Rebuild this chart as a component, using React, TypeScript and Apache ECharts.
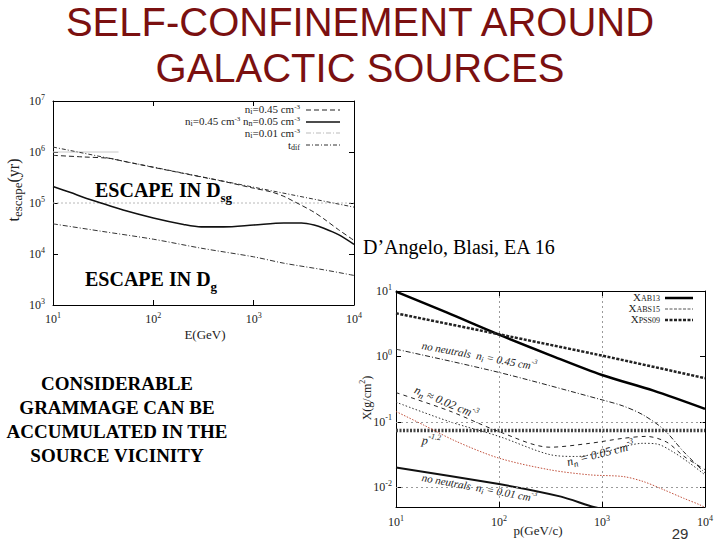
import React, { useEffect, useRef } from 'react';
import * as echarts from 'echarts';

const SERIF = "'Liberation Serif', 'DejaVu Serif', serif";
const SANS = "'Liberation Sans', Arial, sans-serif";

// ---------- Left panel: escape time vs energy ----------
const tdifE = [10, 100, 1000, 10000];
const tdifT = [1.25e6, 5.05e5, 2.04e5, 8.3e4];

const ni045E = [10, 20, 37, 50, 100, 200, 500, 1000, 1500, 2000, 2500, 3000, 4000, 5000, 7000, 10000];
const ni045T = [8.6e5, 8.0e5, 7.5e5, 6.6e5, 5.0e5, 3.8e5, 2.65e5, 1.95e5, 1.65e5, 1.35e5, 1.08e5, 9.0e4, 6.6e4, 4.9e4, 3.0e4, 1.85e4];

const ionNeuE = [10, 15, 20, 30, 50, 100, 200, 300, 500, 1000, 2000, 3000, 4000, 5000, 7000, 10000];
const ionNeuT = [2.1e5, 1.6e5, 1.3e5, 1.0e5, 7.3e4, 5.1e4, 3.8e4, 3.4e4, 3.4e4, 3.7e4, 4.05e4, 4.05e4, 3.7e4, 3.2e4, 2.4e4, 1.55e4];

const ni001E = [10, 30, 100, 300, 1000, 2000, 5000, 10000];
const ni001T = [3.9e4, 2.8e4, 1.95e4, 1.3e4, 8.8e3, 6.6e3, 4.9e3, 3.8e3];

const refLineE = [10, 10000];
const refLineT = [1e5, 1e5];
const refShortE = [10, 45];
const refShortT = [1e6, 1e6];

// ---------- Right panel: grammage vs momentum ----------
const ab13P = [10, 31, 100, 312, 1000, 3160, 10000];
const ab13X = [9.8, 4.7, 2.15, 1.05, 0.52, 0.30, 0.158];

const pss09P = [10, 100, 1000, 10000];
const pss09X = [4.56, 2.18, 1.03, 0.465];

const abs15P = [10, 10000];
const abs15X = [0.074, 0.074];

const noNeu045P = [10, 100, 1000, 1600, 2500, 4000, 6200, 10000];
const noNeu045X = [1.29, 0.57, 0.217, 0.175, 0.128, 0.076, 0.035, 0.0166];

const nn002P = [10, 33, 100, 312, 760, 1600, 2700, 4250, 6200, 10000];
const nn002X = [0.28, 0.147, 0.071, 0.041, 0.047, 0.056, 0.060, 0.049, 0.030, 0.0186];

const nn005P = [10, 33, 100, 312, 568, 1110, 2500, 3390, 4860, 7100, 10000];
const nn005X = [0.20, 0.101, 0.060, 0.0316, 0.0296, 0.0355, 0.047, 0.046, 0.035, 0.0234, 0.0155];

const redP = [10, 18.4, 38.8, 100, 312, 760, 1600, 2500, 3960, 6200, 8900, 10000];
const redX = [0.144, 0.09, 0.050, 0.0279, 0.0185, 0.0155, 0.0146, 0.0123, 0.0092, 0.0068, 0.0054, 0.0049];

const noNeu001P = [10, 100, 400, 830, 2000];
const noNeu001X = [0.020, 0.0112, 0.0072, 0.005, 0.0036];

const rightGridY = [0.1, 0.01];

const pairs = (xs: number[], ys: number[]) => xs.map((x, i) => [x, ys[i]]);

const powLabel = (v: number) => {
  const e = Math.log10(v);
  const r = Math.round(e);
  if (Math.abs(e - r) > 1e-6) return '';
  return '10{sup|' + r + '}';
};

const tickLabel = (margin: number) => ({
  fontFamily: SERIF,
  fontSize: 12,
  color: '#222',
  lineHeight: 16,
  margin,
  formatter: powLabel,
  rich: {
    sup: { fontFamily: SERIF, fontSize: 8, lineHeight: 8, verticalAlign: 'top', color: '#222' },
  },
});

const axisBase = (gridIndex: number, min: number, max: number, position: string, showLabel: boolean, margin: number) => ({
  gridIndex,
  type: 'log',
  logBase: 10,
  min,
  max,
  position,
  axisLine: { show: true, onZero: false, lineStyle: { color: '#000', width: 1 } },
  axisTick: { show: true, inside: true, length: 5, lineStyle: { color: '#000', width: 1 } },
  axisLabel: showLabel ? tickLabel(margin) : { show: false },
  splitLine: { show: false },
});

const richSmall = (size: number, italic = false, color = '#222') => ({
  sub: { fontFamily: SERIF, fontSize: size - 3, fontStyle: italic ? 'italic' : 'normal', lineHeight: size - 3, verticalAlign: 'bottom', fill: color },
  sup: { fontFamily: SERIF, fontSize: size - 4, fontStyle: italic ? 'italic' : 'normal', lineHeight: size - 4, verticalAlign: 'top', fill: color },
});

const text = (
  x: number,
  y: number,
  str: string,
  o: { size?: number; family?: string; weight?: string; italic?: boolean; fill?: string; align?: string; rotation?: number; lh?: number; rich?: any } = {}
) => {
  const size = o.size ?? 12;
  const align = o.align ?? 'left';
  return {
    type: 'text',
    x,
    y,
    z: 100,
    rotation: o.rotation ?? 0,
    style: {
      text: str,
      fontFamily: o.family ?? SERIF,
      fontSize: size,
      fontWeight: o.weight ?? 'normal',
      fontStyle: o.italic ? 'italic' : 'normal',
      fill: o.fill ?? '#222',
      lineHeight: o.lh ?? Math.round(size * 1.4),
      textAlign: align,
      align,
      textVerticalAlign: 'middle',
      verticalAlign: 'middle',
      rich: o.rich ?? richSmall(size, o.italic, o.fill ?? '#222'),
    },
  };
};

const legendLine = (x1: number, x2: number, y: number, color: string, width: number, dash?: number[]) => ({
  type: 'line',
  z: 100,
  shape: { x1, y1: y, x2, y2: y },
  style: { stroke: color, lineWidth: width, lineDash: dash ?? null },
});

const line = (xi: number, data: number[][], color: string, width: number, type: any, smooth = 0.3, extra: any = {}) => ({
  type: 'line',
  xAxisIndex: xi,
  yAxisIndex: xi,
  data,
  symbol: 'none',
  showSymbol: false,
  smooth,
  silent: true,
  clip: true,
  lineStyle: { color, width, type },
  ...extra,
});

const boldRich = {
  sub: { fontFamily: SERIF, fontSize: 13, fontWeight: 'bold', lineHeight: 12, verticalAlign: 'bottom', fill: '#000' },
};

const legendRich = {
  sub: { fontFamily: SERIF, fontSize: 8, lineHeight: 8, verticalAlign: 'bottom', fill: '#222' },
  sup: { fontFamily: SERIF, fontSize: 7, lineHeight: 7, verticalAlign: 'top', fill: '#222' },
};

export default function App() {
  const ref = useRef<HTMLDivElement>(null);

  useEffect(() => {
    const chart = echarts.init(ref.current!, null, { renderer: 'svg' });
    const option: any = {
      animation: false,
      backgroundColor: '#ffffff',
      grid: [
        { left: 53, top: 101, width: 301, height: 204, show: false },
        { left: 396, top: 291, width: 309, height: 216, show: false },
      ],
      xAxis: [
        axisBase(0, 10, 10000, 'bottom', true, 6),
        { ...axisBase(1, 10, 10000, 'bottom', true, 7), splitLine: { show: true, lineStyle: { color: '#9a9a9a', width: 1, type: [2, 3] } } },
        axisBase(0, 10, 10000, 'top', false, 0),
        axisBase(1, 10, 10000, 'top', false, 0),
      ],
      yAxis: [
        axisBase(0, 1e3, 1e7, 'left', true, 8),
        axisBase(1, 0.005, 10, 'left', true, 4),
        axisBase(0, 1e3, 1e7, 'right', false, 0),
        axisBase(1, 0.005, 10, 'right', false, 0),
      ],
      series: [
        // left panel
        line(0, pairs(refLineE, refLineT), '#b8b8b8', 1, [2, 2], 0),
        line(0, pairs(refShortE, refShortT), '#c8c8c8', 1, 'solid', 0),
        line(0, pairs(tdifE, tdifT), '#333', 1, [4, 2, 1, 2], 0),
        line(0, pairs(ni045E, ni045T), '#222', 1, [5, 3]),
        line(0, pairs(ionNeuE, ionNeuT), '#111', 1.6, 'solid'),
        line(0, pairs(ni001E, ni001T), '#333', 1, [5, 2, 1, 2]),
        // right panel
        line(1, pairs(abs15P, abs15X), '#444', 3.5, [2, 1.5], 0, {
          markLine: {
            silent: true,
            symbol: 'none',
            label: { show: false },
            lineStyle: { color: '#9a9a9a', width: 1, type: [2, 3] },
            data: rightGridY.map((v) => ({ yAxis: v })),
          },
        }),
        line(1, pairs(ab13P, ab13X), '#000', 2.5, 'solid'),
        line(1, pairs(pss09P, pss09X), '#222', 2.5, [3, 1.5], 0.2),
        line(1, pairs(noNeu045P, noNeu045X), '#222', 1, [5, 2, 1, 2]),
        line(1, pairs(nn002P, nn002X), '#222', 1, [4, 4]),
        line(1, pairs(nn005P, nn005X), '#333', 1, [1.5, 2]),
        line(1, pairs(redP, redX), '#c0503c', 1, [1.5, 1.5]),
        line(1, pairs(noNeu001P, noNeu001X), '#111', 2, 'solid', 0.2),
      ],
      graphic: [
        // slide title
        text(360, 22, 'SELF-CONFINEMENT AROUND', { size: 40, family: SANS, fill: '#7b1010', align: 'center', lh: 40 }),
        text(360, 68, 'GALACTIC SOURCES', { size: 40, family: SANS, fill: '#7b1010', align: 'center', lh: 40 }),
        // annotations
        text(95, 190, 'ESCAPE IN D{sub|sg}', { size: 20, weight: 'bold', fill: '#000', lh: 28, rich: boldRich }),
        text(85, 279, 'ESCAPE IN D{sub|g}', { size: 20, weight: 'bold', fill: '#000', lh: 28, rich: boldRich }),
        text(363, 247, 'D\u2019Angelo, Blasi, EA 16', { size: 20, fill: '#000' }),
        text(117, 383, 'CONSIDERABLE', { size: 19, weight: 'bold', fill: '#000', align: 'center', lh: 22 }),
        text(117, 407, 'GRAMMAGE CAN BE', { size: 19, weight: 'bold', fill: '#000', align: 'center', lh: 22 }),
        text(117, 431, 'ACCUMULATED IN THE', { size: 19, weight: 'bold', fill: '#000', align: 'center', lh: 22 }),
        text(117, 455, 'SOURCE VICINITY', { size: 19, weight: 'bold', fill: '#000', align: 'center', lh: 22 }),
        text(680, 533, '29', { size: 15, family: SANS, fill: '#333', align: 'center' }),
        // left axis names
        text(13, 190, 't{sub|escape}(yr)', { size: 16, align: 'center', rotation: Math.PI / 2 }),
        text(205, 334, 'E(GeV)', { size: 13, align: 'center' }),
        // left legend
        text(300, 109, 'n{sub|i}=0.45 cm{sup|-3}', { size: 11, align: 'right', lh: 12, rich: legendRich }),
        text(300, 121, 'n{sub|i}=0.45 cm{sup|-3} n{sub|n}=0.05 cm{sup|-3}', { size: 11, align: 'right', lh: 12, rich: legendRich }),
        text(300, 133, 'n{sub|i}=0.01 cm{sup|-3}', { size: 11, align: 'right', lh: 12, rich: legendRich }),
        text(300, 145, 't{sub|dif}', { size: 11, align: 'right', lh: 12, rich: legendRich }),
        legendLine(306, 340, 110, '#222', 1, [5, 3]),
        legendLine(306, 340, 122, '#111', 1.6),
        legendLine(306, 340, 133, '#bbb', 1, [5, 2, 1, 2]),
        legendLine(306, 340, 145, '#333', 1, [4, 2, 1, 2]),
        // right axis names
        text(367, 398, 'X(g/cm{sup|2})', { size: 12, align: 'center', rotation: Math.PI / 2 }),
        text(538, 530, 'p(GeV/c)', { size: 13, align: 'center' }),
        // right legend
        text(660, 297, 'X{sub|AB13}', { size: 11, align: 'right', lh: 10, rich: legendRich }),
        text(660, 308, 'X{sub|ABS15}', { size: 11, align: 'right', lh: 10, rich: legendRich }),
        text(660, 319, 'X{sub|PSS09}', { size: 11, align: 'right', lh: 10, rich: legendRich }),
        legendLine(665, 693, 298, '#000', 2.5),
        legendLine(665, 693, 309, '#555', 1, [3, 1.5]),
        legendLine(665, 693, 320, '#222', 2.5, [3, 1.5]),
        // right curve labels
        text(422, 345, 'no neutrals  n{sub|i} = 0.45 cm{sup|-3}', { size: 11, italic: true, rotation: -0.185 }),
        text(415, 389, 'n{sub|n} \u2248 0.02 cm{sup|-3}', { size: 12, italic: true, rotation: -0.4 }),
        text(422, 440, 'p{sup|-1.2}', { size: 12, italic: true, rotation: -0.12 }),
        text(567, 462, 'n{sub|n} = 0.05 cm{sup|-3}', { size: 12, italic: true, rotation: 0.25 }),
        text(422, 477, 'no neutrals  n{sub|i} = 0.01 cm{sup|-3}', { size: 11, italic: true, rotation: -0.183 }),
      ],
    };
    chart.setOption(option);
    return () => chart.dispose();
  }, []);

  return <div ref={ref} style={{ position: 'absolute', left: 0, top: 0, width: 720, height: 540 }} />;
}
